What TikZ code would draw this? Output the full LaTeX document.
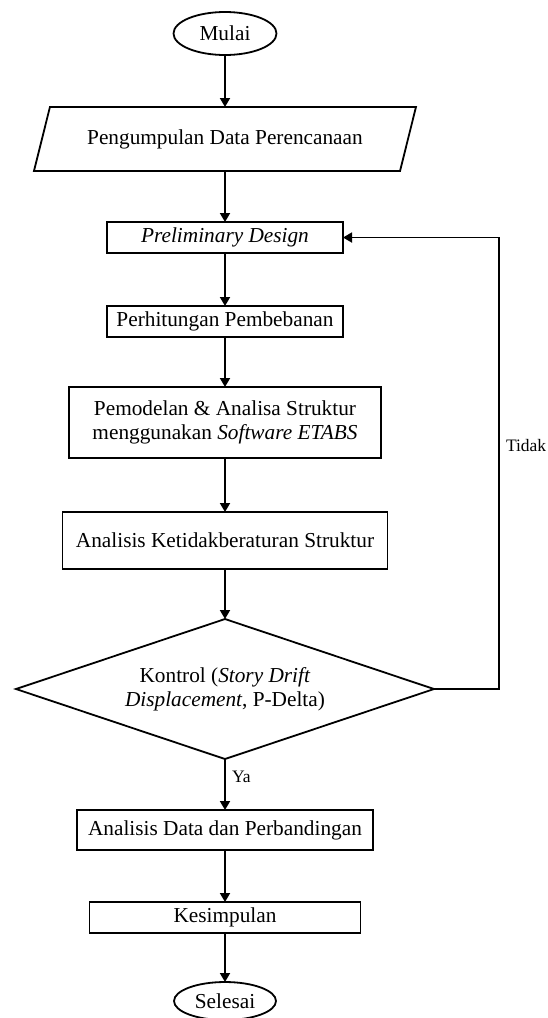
\documentclass[tikz,border=0pt]{standalone}
\usepackage{fontspec}
\setmainfont{Liberation Serif}
\usepackage{tikz}
\usetikzlibrary{positioning}
\usetikzlibrary{arrows.meta}
\usetikzlibrary{shapes.geometric}

\begin{document}
\begin{tikzpicture}[x=1pt, y=1pt, node distance=51pt,
    every node/.style={font=\fontsize{21.3}{24}\selectfont, outer sep=0pt},
    proc/.style={draw, rectangle, line width=1.8pt, inner sep=0pt, align=center},
    term/.style={draw, ellipse, line width=1.8pt, inner sep=0pt, minimum width=103pt, minimum height=43pt},
    io/.style={draw, trapezium, trapezium left angle=76, trapezium right angle=104,
        trapezium stretches body=true, line width=1.8pt, inner xsep=10pt, inner ysep=21.5pt,
        text height=16pt, text depth=5pt, minimum width=382pt},
    decision/.style={draw, diamond, aspect=3, line width=1.8pt, inner sep=0pt, align=center,
        minimum width=418pt, minimum height=140pt},
    flow/.style={line width=1.8pt, -{Triangle[length=9pt, width=10pt]}},
    lbl/.style={font=\fontsize{17.5}{20}\selectfont, inner sep=7pt}]
    \useasboundingbox (0,0) rectangle (547,-1018);

    \node[term] (mulai) at (225,-33.5) {Mulai};
    \node[io, below=52pt of mulai] (data) {Pengumpulan Data Perencanaan};
    \node[proc, below=of data, minimum width=236pt, minimum height=31pt] (prelim) {\textit{Preliminary Design}};
    \node[proc, below=53pt of prelim, minimum width=236pt, minimum height=31pt] (beban) {Perhitungan Pembebanan};
    \node[proc, below=50pt of beban, minimum width=312pt, minimum height=71pt] (model) {Pemodelan \& Analisa Struktur\\menggunakan \textit{Software ETABS}};
    \node[proc, below=54pt of model, minimum width=325pt, minimum height=57pt] (ketidak) {Analisis Ketidakberaturan Struktur};
    \node[decision, below=50pt of ketidak] (kontrol) {Kontrol (\textit{Story Drift}\\\textit{Displacement}, P-Delta)};
    \node[proc, below=of kontrol, minimum width=296pt, minimum height=40pt] (analisis) {Analisis Data dan Perbandingan};
    \node[proc, below=52pt of analisis, minimum width=271pt, minimum height=31pt] (simpul) {Kesimpulan};
    \node[term, below=49pt of simpul, minimum width=102pt, minimum height=38pt] (selesai) {Selesai};

    \coordinate[right=65pt of kontrol.east] (balik);

    \draw[flow] (mulai) -- (data);
    \draw[flow] (data) -- (prelim);
    \draw[flow] (prelim) -- (beban);
    \draw[flow] (beban) -- (model);
    \draw[flow] (model) -- (ketidak);
    \draw[flow] (ketidak) -- (kontrol);
    \draw[flow] (kontrol) -- node[lbl, right, pos=0.35] {Ya} (analisis);
    \draw[flow] (analisis) -- (simpul);
    \draw[flow] (simpul) -- (selesai);
    \draw[flow] (kontrol.east) -- (balik) |- node[lbl, right, pos=0.27] {Tidak} (prelim.east);
\end{tikzpicture}
\end{document}
